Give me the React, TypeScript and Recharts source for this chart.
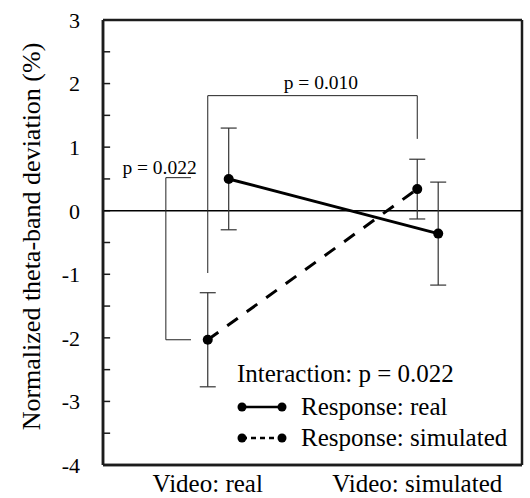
import { ComposedChart, Line, XAxis, YAxis, ErrorBar, ReferenceLine, ReferenceDot, Legend } from "recharts"

const videoLabels = ["Video: real", "Video: simulated"]
const realMeans = [0.5, -0.36]
const realErrors = [0.8, 0.81]
const simulatedMeans = [-2.03, 0.34]
const simulatedErrors = [0.74, 0.47]
const yTicks = [-4, -3.5, -3, -2.5, -2, -1.5, -1, -0.5, 0, 0.5, 1, 1.5, 2, 2.5, 3]
const interactionText = "Interaction: p = 0.022"

// significance brackets (data coords)
const bracketResponse = [
  { x: -0.08, y: 0.52 },
  { x: -0.2, y: 0.52 },
  { x: -0.2, y: -2.03 },
  { x: -0.08, y: -2.03 },
]
const bracketVideo = [
  { x: 0, y: -0.98 },
  { x: 0, y: 1.81 },
  { x: 1, y: 1.81 },
  { x: 1, y: 1.13 },
]
const pLabels = [
  { x: 0.54, y: 2.02, text: "p = 0.010" },
  { x: -0.23, y: 0.69, text: "p = 0.022" },
]

const X_DOMAIN = [-0.5, 1.5]
const Y_DOMAIN = [-4, 3]
const REAL_OFFSET = 0.1
const INNER_TICK = 0.034 // inward tick length, x units

const realData = realMeans.map((y, i) => ({ x: i + REAL_OFFSET, y, err: realErrors[i] }))
const simulatedData = simulatedMeans.map((y, i) => ({ x: i, y, err: simulatedErrors[i] }))

const FONT = "Liberation Serif, DejaVu Serif, serif"
const FRAME = { stroke: "#1c1c1c", strokeWidth: 2.5 }

const YTick = (props: any) => {
  const { x, y, payload } = props
  const v = payload.value
  if (!Number.isInteger(v)) return <g />
  return (
    <text x={x} y={y} dy="0.36em" textAnchor="end" fontSize={22} fill="#000" fontFamily={FONT}>
      {v}
    </text>
  )
}

const dashes = ["", "5 4"]

const renderLegend = (props: any) => {
  const items = (props.payload || []).filter((p: any) => p.type !== "none")
  return (
    <svg width={300} height={110} style={{ display: "block" }}>
      <text x={9} y={30} fontSize={25} fill="#000" fontFamily={FONT}>
        {interactionText}
      </text>
      {items.map((item: any, i: number) => {
        const y = 55 + i * 31
        return (
          <g key={i}>
            <line x1={14} x2={54} y1={y} y2={y} stroke="#000" strokeWidth={2.5} strokeDasharray={dashes[i]} />
            <circle cx={14} cy={y} r={4.5} fill="#000" />
            <circle cx={54} cy={y} r={4.5} fill="#000" />
            <text x={73} y={y + 8} fontSize={25} fill="#000" fontFamily={FONT}>
              {item.value}
            </text>
          </g>
        )
      })}
    </svg>
  )
}

export default function App() {
  return (
    <div style={{ position: "absolute", left: 0, top: 0 }}>
      <ComposedChart width={530} height={498} margin={{ top: 20, right: 8, bottom: 0, left: 0 }}>
        <XAxis
          type="number"
          dataKey="x"
          domain={X_DOMAIN}
          ticks={[0, 1]}
          tickFormatter={(v: number) => videoLabels[v]}
          axisLine={FRAME}
          tickLine={false}
          tickSize={0}
          tickMargin={9}
          height={33}
          tick={{ fill: "#000", fontSize: 25, fontFamily: FONT }}
          interval={0}
        />
        <YAxis
          type="number"
          domain={Y_DOMAIN}
          ticks={yTicks}
          interval={0}
          width={103}
          axisLine={FRAME}
          tickLine={false}
          tickSize={0}
          tickMargin={23}
          tick={<YTick />}
          allowDataOverflow
          label={{
            value: "Normalized theta-band deviation (%)",
            angle: -90,
            position: "center",
            dx: -21,
            dy: -6,
            fontSize: 26,
            fill: "#000",
            fontFamily: FONT,
          }}
        />
        {/* plot frame */}
        <ReferenceLine x={X_DOMAIN[0]} {...FRAME} />
        <ReferenceLine x={X_DOMAIN[1]} {...FRAME} />
        <ReferenceLine y={Y_DOMAIN[0]} {...FRAME} />
        <ReferenceLine y={Y_DOMAIN[1]} {...FRAME} />
        {/* inward ticks on the left frame */}
        {yTicks.map((v) => (
          <ReferenceLine
            key={`t${v}`}
            stroke="#1c1c1c"
            strokeWidth={1.5}
            segment={[
              { x: X_DOMAIN[0], y: v },
              { x: X_DOMAIN[0] + INNER_TICK, y: v },
            ]}
          />
        ))}
        <ReferenceLine y={0} stroke="#000" strokeWidth={1.5} />
        <Line
          data={bracketResponse}
          dataKey="y"
          type="linear"
          stroke="#222"
          strokeWidth={1}
          dot={false}
          legendType="none"
          isAnimationActive={false}
        />
        <Line
          data={bracketVideo}
          dataKey="y"
          type="linear"
          stroke="#222"
          strokeWidth={1}
          dot={false}
          legendType="none"
          isAnimationActive={false}
        />
        {pLabels.map((p) => (
          <ReferenceDot
            key={p.text}
            x={p.x}
            y={p.y}
            r={0}
            stroke="none"
            label={{ value: p.text, position: "center", fontSize: 19.5, fill: "#000", fontFamily: FONT }}
          />
        ))}
        <Line
          data={realData}
          dataKey="y"
          name="Response: real"
          type="linear"
          stroke="#000"
          strokeWidth={3}
          dot={{ r: 5, fill: "#000", stroke: "#000", strokeWidth: 0 }}
          activeDot={false}
          isAnimationActive={false}
        >
          <ErrorBar dataKey="err" direction="y" width={8} stroke="#333" strokeWidth={1.2} />
        </Line>
        <Line
          data={simulatedData}
          dataKey="y"
          name="Response: simulated"
          type="linear"
          stroke="#000"
          strokeWidth={3}
          strokeDasharray="13 11"
          dot={{ r: 5, fill: "#000", stroke: "#000", strokeWidth: 0, strokeDasharray: "" }}
          activeDot={false}
          isAnimationActive={false}
        >
          <ErrorBar dataKey="err" direction="y" width={8} stroke="#333" strokeWidth={1.2} />
        </Line>
        <Legend
          layout="horizontal"
          verticalAlign="middle"
          align="center"
          content={renderLegend}
          wrapperStyle={{ left: 228, top: 352, width: 300, height: 110 }}
        />
      </ComposedChart>
    </div>
  )
}
